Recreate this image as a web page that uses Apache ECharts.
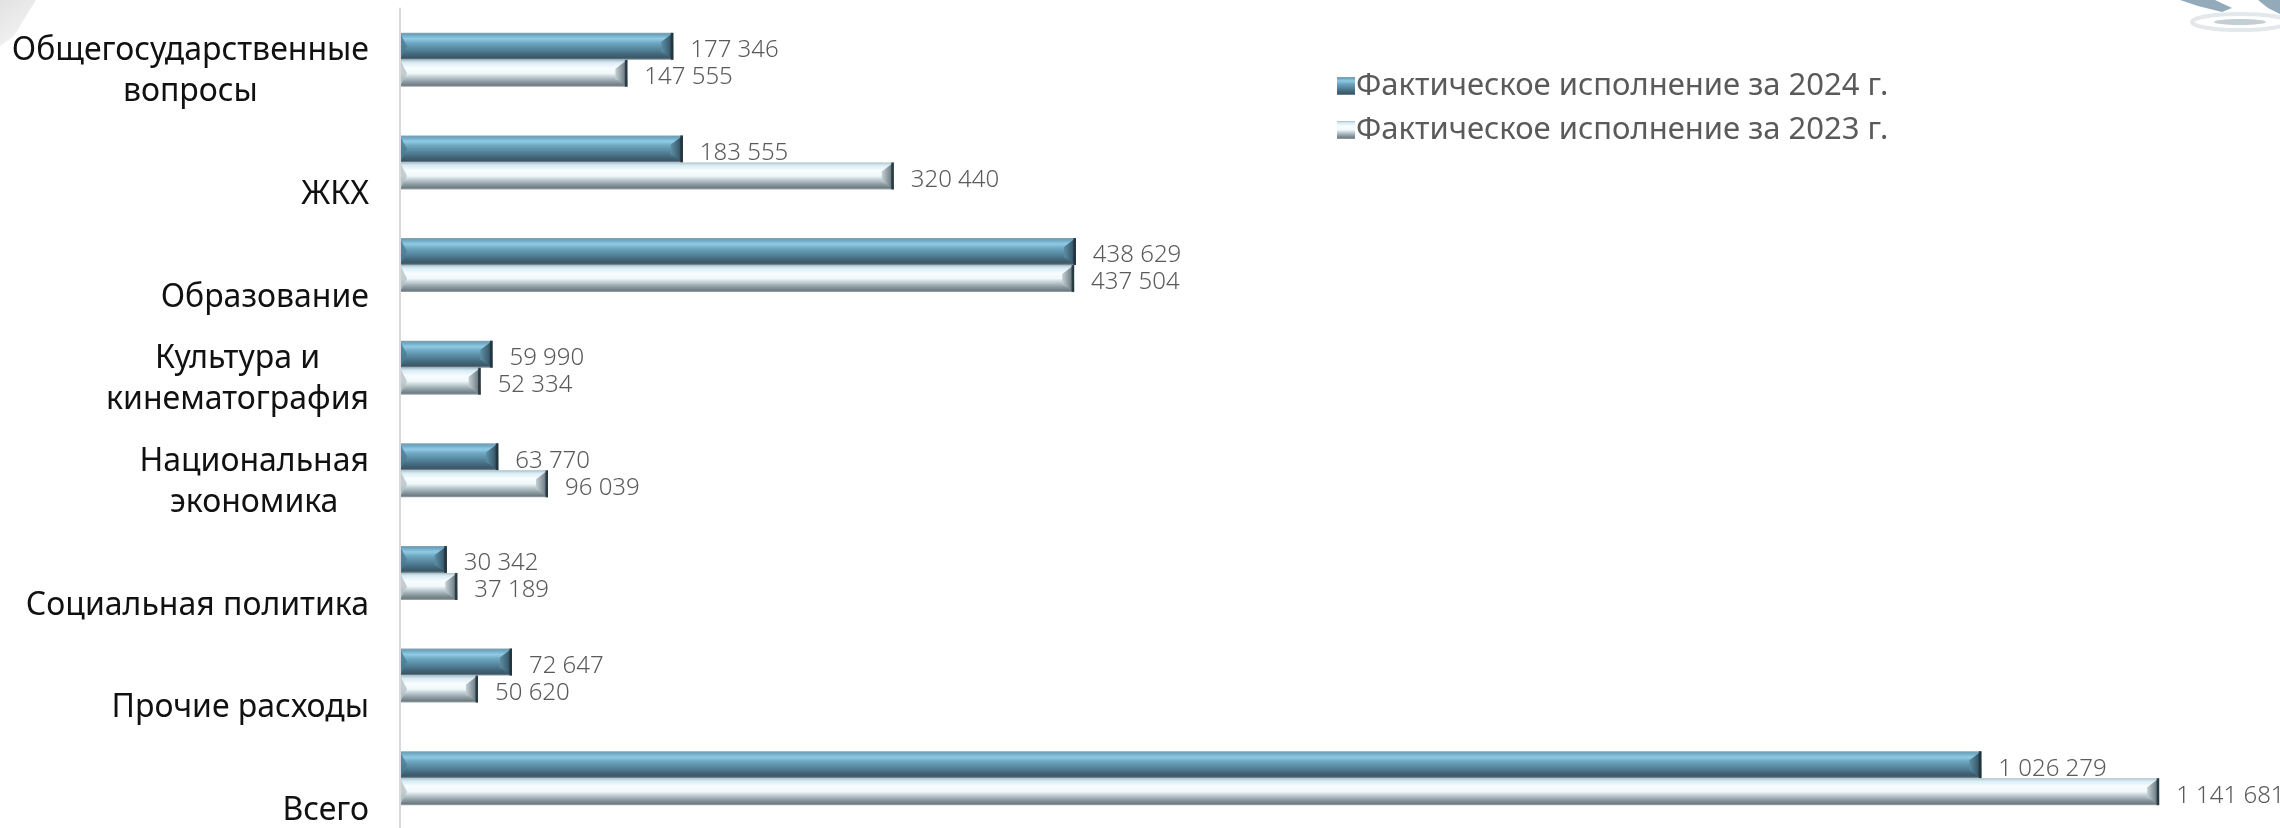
<!DOCTYPE html>
<html><head><meta charset="utf-8">
<script src="https://cdn.jsdelivr.net/npm/echarts@6/dist/echarts.min.js"></script>
<style>html,body{margin:0;padding:0;background:#fff}#c{width:2280px;height:828px}</style>
</head><body><div id="c"></div>
<script>
const categories = ['Общегосударственные\nвопросы','ЖКХ','Образование','Культура и\nкинематография','Национальная\nэкономика','Социальная политика','Прочие расходы','Всего'];
const values2024 = [177346,183555,438629,59990,63770,30342,72647,1026279];
const values2023 = [147555,320440,437504,52334,96039,37189,50620,1141681];
const seriesNames = ['Фактическое исполнение за 2024 г.','Фактическое исполнение за 2023 г.'];

const FONT = 'Noto Sans';
const fmt = v => String(v).replace(/\B(?=(\d{3})+(?!\d))/g, ' ');
const G = echarts.graphic;
const grad2024 = new G.LinearGradient(0,0,0,1,[
  {offset:0,color:'#8aa3b0'},{offset:0.06,color:'#6aa2bb'},{offset:0.22,color:'#8fcbe6'},
  {offset:0.38,color:'#6ea6c0'},{offset:0.55,color:'#5b8ea6'},{offset:0.8,color:'#42667a'},
  {offset:0.93,color:'#3b5767'},{offset:1,color:'#8a9aa2'}]);
const grad2023 = new G.LinearGradient(0,0,0,1,[
  {offset:0,color:'#a9bcc4'},{offset:0.1,color:'#d6ecf4'},{offset:0.3,color:'#f8fdff'},
  {offset:0.5,color:'#f1f8fa'},{offset:0.62,color:'#c6d3d7'},{offset:0.8,color:'#909fa6'},
  {offset:0.94,color:'#6d7c83'},{offset:1,color:'#a2acb0'}]);
const cap2024 = new G.LinearGradient(1,0,0,0,[{offset:0,color:'#263944'},{offset:0.35,color:'#3d6274'},{offset:1,color:'#5d8ea5'}]);
const cap2023 = new G.LinearGradient(1,0,0,0,[{offset:0,color:'#4d5b62'},{offset:0.35,color:'#7e8d94'},{offset:1,color:'#c5d0d4'}]);
const left2024 = '#4c7d93', left2023 = '#b6c3c8';
const cornerGrad = new G.LinearGradient(0,0,1,1,[{offset:0,color:'#e2e2e2'},{offset:1,color:'#f7f7f7'}]);

function makeRender(offsetSign, fill, cap, leftCol){
  return function(params, api){
    const v = api.value(0), ci = api.value(1);
    const p0 = api.coord([0, ci]);
    const p1 = api.coord([v, ci]);
    const bw = 27;
    const y0 = offsetSign < 0 ? p0[1] - bw : p0[1];
    const y1 = y0 + bw;
    const x0 = p0[0] + 1, x1 = p1[0];
    const d = Math.min(12, (x1 - x0) / 2);
    return {type:'group', children:[
      {type:'rect', shape:{x:x0, y:y0, width:x1-x0, height:bw}, style:{fill:fill}},
      {type:'polygon', shape:{points:[[x1,y0],[x1,y1],[x1-d,y1-8],[x1-d,y0+9]]}, style:{fill:cap}},
      {type:'rect', shape:{x:x1-2.5, y:y0, width:2.5, height:bw}, style:{fill:'#22323b', opacity:0.85}},
      {type:'polygon', shape:{points:[[x0,y0+2],[x0,y1-2],[x0+6,y0+bw/2]]}, style:{fill:leftCol, opacity:0.8}},
      {type:'text', style:{text:fmt(v), x:x1+17, y:y0+bw/2+4, verticalAlign:'middle', align:'left',
        font:'300 24px "'+FONT+'"', fill:'#5a5a5a'}}
    ]};
  };
}

const chart = echarts.init(document.getElementById('c'), null, {renderer:'canvas'});
chart.setOption({
  backgroundColor:'#ffffff',
  animation:false,
  graphic:[
    {type:'polygon', shape:{points:[[0,0],[36,0],[26,16],[14,36],[0,46]]}, style:{fill:cornerGrad}},
    {type:'polygon', shape:{points:[[2180,0],[2215,0],[2232,8],[2222,12],[2198,6]]}, style:{fill:'#93aabb'}},
    {type:'polygon', shape:{points:[[2258,0],[2280,0],[2280,14],[2268,8]]}, style:{fill:'#93aabb'}},
    {type:'ellipse', shape:{cx:2240, cy:22, rx:48, ry:8}, style:{fill:'none', stroke:'#e3e8ec', lineWidth:4}},
    {type:'ellipse', shape:{cx:2240, cy:22, rx:26, ry:3}, style:{fill:'#a9b8c2', opacity:0.7}}
  ],
  legend:{
    orient:'vertical', left:1332, top:64.5, itemWidth:18, itemHeight:18, itemGap:11,
    icon:'rect', data:seriesNames,
    textStyle:{fontFamily:FONT, fontSize:31, color:'#5a5a5a', lineHeight:33, padding:[0,0,0,-4]}
  },
  grid:[
    {left:400, top:8.5, height:821, right:31, outerBoundsMode:'none'},
    {left:400, top:61.5, height:821, right:31, outerBoundsMode:'none'}
  ],
  xAxis:[
    {type:'value', gridIndex:0, min:0, max:1200000, show:false, splitLine:{show:false}},
    {type:'value', gridIndex:1, min:0, max:1, show:false, splitLine:{show:false}}
  ],
  yAxis:[
    {type:'category', gridIndex:0, data:categories, inverse:true,
      axisLine:{show:true, lineStyle:{color:'#d9d9d9', width:2}}, axisTick:{show:false}, axisLabel:{show:false}, splitLine:{show:false}},
    {type:'category', gridIndex:1, data:categories, inverse:true,
      axisLine:{show:false}, axisTick:{show:false}, splitLine:{show:false},
      axisLabel:{show:true, align:'right', verticalAlign:'bottom', margin:31,
        formatter: v => v.split('\n').map(s => '{c|' + s + '}').join('\n'),
        rich:{c:{align:'center', fontFamily:FONT, fontSize:32, lineHeight:41, color:'#111111'}}}}
  ],
  series:[
    {name:seriesNames[0], type:'custom', xAxisIndex:0, yAxisIndex:0,
      itemStyle:{color:grad2024}, encode:{x:0, y:1},
      renderItem: makeRender(-1, grad2024, cap2024, left2024),
      data: values2024.map((v,i)=>[v,i])},
    {name:seriesNames[1], type:'custom', xAxisIndex:0, yAxisIndex:0,
      itemStyle:{color:grad2023}, encode:{x:0, y:1},
      renderItem: makeRender(1, grad2023, cap2023, left2023),
      data: values2023.map((v,i)=>[v,i])}
  ]
});
</script></body></html>
